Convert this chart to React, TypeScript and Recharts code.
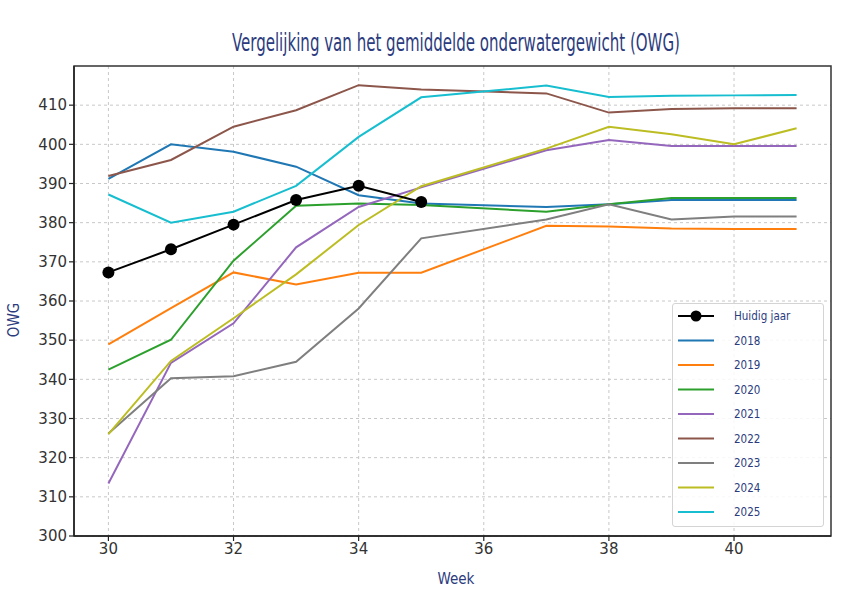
import React from "react";
import {
  LineChart,
  Line,
  XAxis,
  YAxis,
  CartesianGrid,
  ReferenceArea,
} from "recharts";

const weeks = [30, 31, 32, 33, 34, 35, 37, 38, 39, 40, 41];
const huidigJaar = [367.3, 373.2, 379.5, 385.8, 389.4, 385.3];
const y2018 = [391.2, 400.0, 398.1, 394.3, 387.0, 384.9, 384.0, 384.7, 385.8, 385.8, 385.8];
const y2019 = [348.9, 358.2, 367.3, 364.2, 367.2, 367.2, 379.2, 379.0, 378.5, 378.4, 378.4];
const y2020 = [342.5, 350.1, 370.3, 384.3, 384.9, 384.5, 382.8, 384.7, 386.3, 386.3, 386.3];
const y2021 = [313.4, 344.2, 354.3, 373.7, 384.0, 389.0, 398.5, 401.1, 399.6, 399.6, 399.6];
const y2022 = [391.9, 396.0, 404.5, 408.7, 415.1, 414.0, 413.0, 408.1, 409.0, 409.2, 409.2];
const y2023 = [326.2, 340.3, 340.8, 344.5, 358.1, 376.0, 380.8, 384.7, 380.8, 381.6, 381.6];
const y2024 = [326.0, 344.7, 355.6, 366.8, 379.4, 389.3, 398.9, 404.5, 402.6, 400.0, 404.1];
const y2025 = [387.2, 380.0, 382.8, 389.4, 401.9, 412.0, 415.0, 412.1, 412.4, 412.5, 412.6];

const xTicks = [30, 32, 34, 36, 38, 40];
const yTicks = [300, 310, 320, 330, 340, 350, 360, 370, 380, 390, 400, 410];

const seriesList = [
  { key: "2018", name: "2018", color: "#1f77b4", values: y2018 },
  { key: "2019", name: "2019", color: "#ff7f0e", values: y2019 },
  { key: "2020", name: "2020", color: "#2ca02c", values: y2020 },
  { key: "2021", name: "2021", color: "#9467bd", values: y2021 },
  { key: "2022", name: "2022", color: "#8c564b", values: y2022 },
  { key: "2023", name: "2023", color: "#7f7f7f", values: y2023 },
  { key: "2024", name: "2024", color: "#bcbd22", values: y2024 },
  { key: "2025", name: "2025", color: "#17becf", values: y2025 },
];

const data = weeks.map((w, i) => {
  const row: Record<string, number | undefined> = { week: w };
  row.huidig = i < huidigJaar.length ? huidigJaar[i] : undefined;
  seriesList.forEach((s) => {
    row[s.key] = s.values[i];
  });
  return row;
});

const NAVY = "#2b3b7e";
const NARROW = "'Liberation Sans Narrow', 'DejaVu Sans Condensed', sans-serif";

const legendItems = [
  { name: "Huidig jaar", color: "#000000", marker: true },
  ...seriesList.map((s) => ({ name: s.name, color: s.color, marker: false })),
];

const LegendBox = () => (
  <div
    style={{
      position: "absolute",
      left: 672,
      top: 303,
      width: 152,
      height: 224,
      boxSizing: "border-box",
      border: "1px solid #d4d4d4",
      borderRadius: 3,
      background: "rgba(255,255,255,0.85)",
    }}
  >
    <svg width={150} height={222} style={{ position: "absolute", left: 0, top: 0 }}>
      {legendItems.map((it, i) => {
        const cy = 12 + i * 24.5;
        return (
          <g key={it.name}>
            <line x1={5} x2={41} y1={cy} y2={cy} stroke={it.color} strokeWidth={2} />
            {it.marker && <circle cx={23} cy={cy} r={5.5} fill="#000" />}
            <text x={61} y={cy + 4} fontFamily={NARROW} fontSize={11.5} fill={NAVY}>
              {it.name}
            </text>
          </g>
        );
      })}
    </svg>
  </div>
);

export default function App() {
  return (
    <div
      style={{
        position: "absolute",
        left: 0,
        top: 0,
        width: 858,
        height: 598,
        background: "#fff",
      }}
    >
      <div style={{ position: "absolute", left: 0, top: 0 }}>
        <LineChart
          width={858}
          height={598}
          data={data}
          margin={{ top: 66, right: 27, left: 14, bottom: 32 }}
        >
          <CartesianGrid
            stroke="#c8c8c8"
            strokeDasharray="3 3"
            horizontalValues={yTicks}
            verticalValues={xTicks}
          />
          <XAxis
            dataKey="week"
            type="number"
            domain={[29.45, 41.55]}
            ticks={xTicks}
            interval={0}
            allowDataOverflow
            height={30}
            axisLine={{ stroke: "#222", strokeWidth: 1.5 }}
            tickLine={{ stroke: "#222", strokeWidth: 1.2 }}
            tickSize={5}
            tick={{ fill: "#333", fontSize: 15, fontFamily: "'DejaVu Sans', sans-serif" }}
          />
          <YAxis
            type="number"
            domain={[300, 420]}
            ticks={yTicks}
            interval={0}
            allowDataOverflow
            width={60}
            axisLine={{ stroke: "#222", strokeWidth: 1.5 }}
            tickLine={{ stroke: "#222", strokeWidth: 1.2 }}
            tickSize={5}
            tick={{ fill: "#333", fontSize: 15, fontFamily: "'DejaVu Sans', sans-serif" }}
          />
          <ReferenceArea
            x1={29.45}
            x2={41.55}
            y1={300}
            y2={420}
            fill="none"
            stroke="#333"
            strokeWidth={1.5}
            ifOverflow="visible"
          />
          {seriesList.map((s) => (
            <Line
              key={s.key}
              dataKey={s.key}
              name={s.name}
              stroke={s.color}
              strokeWidth={2}
              dot={false}
              activeDot={false}
              type="linear"
              isAnimationActive={false}
            />
          ))}
          <Line
            dataKey="huidig"
            name="Huidig jaar"
            stroke="#000"
            strokeWidth={2}
            dot={{ r: 6, fill: "#000", stroke: "#000", strokeWidth: 0 }}
            activeDot={false}
            type="linear"
            connectNulls={false}
            isAnimationActive={false}
          />
        </LineChart>
      </div>
      <svg
        width={858}
        height={598}
        style={{ position: "absolute", left: 0, top: 0, pointerEvents: "none" }}
      >
        <text
          x={232}
          y={51}
          fontFamily={NARROW}
          fontSize={24}
          fill={NAVY}
          textLength={448}
          lengthAdjust="spacingAndGlyphs"
        >
          Vergelijking van het gemiddelde onderwatergewicht (OWG)
        </text>
        <text
          x={456}
          y={584}
          textAnchor="middle"
          fontFamily={NARROW}
          fontSize={15}
          fill={NAVY}
        >
          Week
        </text>
        <text
          transform="translate(19,320) rotate(-90)"
          textAnchor="middle"
          fontFamily={NARROW}
          fontSize={15}
          fill={NAVY}
        >
          OWG
        </text>
      </svg>
      <LegendBox />
    </div>
  );
}
